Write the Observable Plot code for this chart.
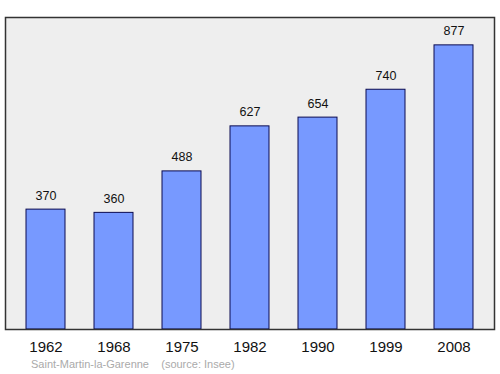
<!DOCTYPE html>
<html>
<head>
<meta charset="utf-8">
<script src="https://cdn.jsdelivr.net/npm/d3@7"></script>
<script src="https://cdn.jsdelivr.net/npm/@observablehq/plot@0.6"></script>
<style>
  html, body { margin: 0; padding: 0; background: #fff; }
  #wrap { position: relative; width: 500px; height: 374px; }
  #caption { position: absolute; left: 31px; top: 358px; font: 11px "Liberation Sans", Arial, sans-serif; color: #aaaaaa; line-height: 12px; white-space: pre; }
</style>
</head>
<body>
<div id="wrap"></div>
<script>
const years = ["1962", "1968", "1975", "1982", "1990", "1999", "2008"];
const population = [370, 360, 488, 627, 654, 740, 877];
const place = "Saint-Martin-la-Garenne";
const source = "(source: Insee)";

const data = years.map((y, i) => ({year: y, pop: population[i]}));

const chart = Plot.plot({
  width: 500,
  height: 374,
  marginLeft: 5,
  marginRight: 6,
  marginTop: 17,
  marginBottom: 45,
  style: {fontFamily: "'Liberation Sans', Arial, sans-serif", background: "#fff"},
  x: {domain: years, paddingInner: 0.43, paddingOuter: 0.3, label: null},
  y: {domain: [0, 963], axis: null},
  marks: [
    Plot.frame({fill: "#eeeeee", stroke: null}),
    Plot.barY(data, {x: "year", y: "pop", fill: "#7799ff", stroke: "#0a0a50", strokeWidth: 1}),
    Plot.text(data, {x: "year", y: "pop", text: d => String(d.pop), lineAnchor: "bottom", dy: -10, fontSize: 12.5, fill: "#111"}),
    Plot.frame({stroke: "#333333", strokeWidth: 1.5}),
    Plot.axisX({tickSize: 0, tickPadding: 12, fontSize: 15, fill: "#111", label: null})
  ]
});

document.getElementById("wrap").appendChild(chart);
const cap = document.createElement("div");
cap.id = "caption";
cap.textContent = place + "    " + source;
document.getElementById("wrap").appendChild(cap);
</script>
</body>
</html>
